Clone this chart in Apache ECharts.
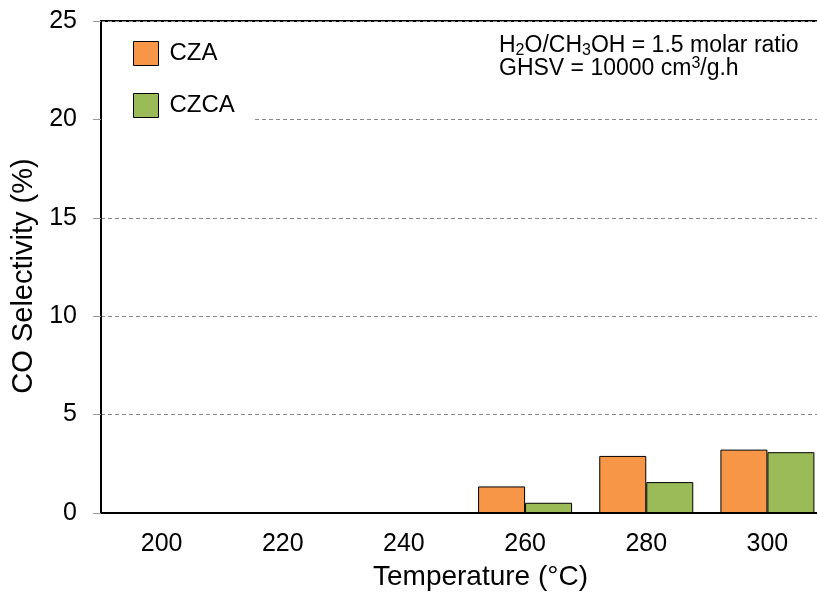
<!DOCTYPE html>
<html>
<head>
<meta charset="utf-8">
<script src="https://cdn.jsdelivr.net/npm/echarts@6/dist/echarts.min.js"></script>
<style>
  html, body { margin: 0; padding: 0; background: #fff; }
  #chart { width: 817px; height: 596px; }
</style>
</head>
<body>
<div id="chart"></div>
<script>
const temperatures = ['200', '220', '240', '260', '280', '300']
const czaValues = [0, 0, 0, 1.35, 2.9, 3.22]
const czcaValues = [0, 0, 0, 0.52, 1.57, 3.09]
const seriesNames = ['CZA', 'CZCA']
const seriesColors = ['#F79646', '#9BBB59']

const font = 'Liberation Sans, Arial, sans-serif'
const chart = echarts.init(document.getElementById('chart'))

const series = [czaValues, czcaValues].map(function (vals, i) {
  return {
    name: seriesNames[i],
    type: 'bar',
    barWidth: 47,
    barGap: '0%',
    itemStyle: {
      color: seriesColors[i],
      borderColor: '#000',
      borderWidth: 1
    },
    data: vals
  }
})

chart.setOption({
  animation: false,
  backgroundColor: '#fff',
  textStyle: { fontFamily: font },
  grid: {
    left: 101,
    top: 21,
    width: 727,
    height: 492,
    outerBoundsMode: 'none',
    containLabel: false,
    show: true,
    borderColor: '#000',
    borderWidth: 2,
    backgroundColor: 'transparent'
  },
  legend: {
    orient: 'vertical',
    left: 102,
    top: 23,
    padding: [18, 20, 8, 31],
    backgroundColor: '#fff',
    icon: 'rect',
    itemWidth: 25,
    itemHeight: 24,
    itemGap: 27,
    textStyle: { fontSize: 24, lineHeight: 24, color: '#000', fontFamily: font, padding: [0, 0, 0, 6] },
    data: seriesNames.map(function (n) {
      return { name: n, itemStyle: { borderColor: '#000', borderWidth: 1 } }
    })
  },
  graphic: [{
    type: 'text',
    left: 499,
    top: 32,
    z: 10,
    style: {
      text: 'H{sub|2}O/CH{sub|3}OH = 1.5 molar ratio\nGHSV = 10000 cm{sup|3}/g.h',
      font: '23px ' + font,
      fill: '#000',
      lineHeight: 23,
      rich: {
        sub: { fontSize: 16, fontFamily: font, padding: [11, 0, 0, 0], lineHeight: 23 },
        sup: { fontSize: 16, fontFamily: font, padding: [0, 0, 9, 0], lineHeight: 23 }
      }
    }
  }],
  xAxis: {
    type: 'category',
    data: temperatures,
    name: 'Temperature (°C)',
    nameLocation: 'middle',
    nameGap: 50,
    nameTextStyle: { fontSize: 28, color: '#000', fontFamily: font, padding: [0, 0, 0, 32] },
    axisLine: { lineStyle: { color: '#000', width: 2 } },
    axisTick: { show: false },
    axisLabel: { fontSize: 25, color: '#000', margin: 19, fontFamily: font }
  },
  yAxis: {
    type: 'value',
    min: 0,
    max: 25,
    interval: 5,
    name: 'CO Selectivity (%)',
    nameLocation: 'middle',
    nameGap: 58,
    nameTextStyle: { fontSize: 29, color: '#000', fontFamily: font, padding: [0, 18, 0, 0] },
    axisLine: { show: true, lineStyle: { color: '#000', width: 2 } },
    axisTick: { show: true, length: 8, lineStyle: { color: '#999' } },
    axisLabel: { fontSize: 25, color: '#000', margin: 24, fontFamily: font },
    splitLine: { lineStyle: { color: '#888', type: [4, 3], width: 1 } }
  },
  series: series
})
</script>
</body>
</html>
